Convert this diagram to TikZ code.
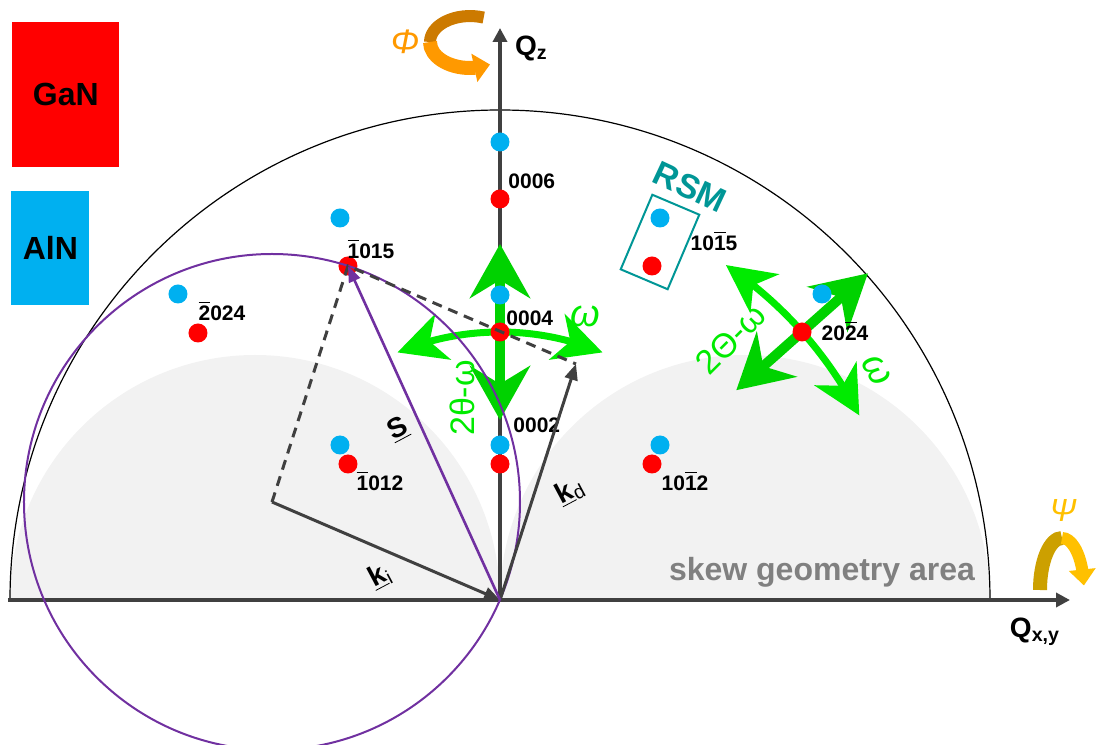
\documentclass[tikz,border=0pt]{standalone}
\usepackage{fontspec}
\setmainfont{Liberation Sans}
\usepackage{xcolor}
\definecolor{ganred}{RGB}{255,0,0}
\definecolor{alnblue}{RGB}{0,176,240}
\definecolor{axgray}{RGB}{64,64,64}
\definecolor{skewgray}{RGB}{242,242,242}
\definecolor{ewpurple}{RGB}{112,48,160}
\definecolor{omgreen}{RGB}{0,235,0}
\definecolor{radgreen}{RGB}{0,210,0}
\definecolor{rsmteal}{RGB}{0,150,150}
\definecolor{phidark}{RGB}{204,122,0}
\definecolor{philight}{RGB}{255,153,0}
\definecolor{psidark}{RGB}{204,160,0}
\definecolor{psilight}{RGB}{255,192,0}
\usepackage{tikz}
\usetikzlibrary{arrows.meta, bending, calc}

\newcommand{\ob}[1]{$\overline{\mbox{#1}}$}

\tikzset{
  gan/.style={circle, fill=ganred, inner sep=0pt, minimum size=9.5pt},
  aln/.style={circle, fill=alnblue, inner sep=0pt, minimum size=9.5pt},
  hkl/.style={font=\bfseries\fontsize{10.5}{12}\selectfont, inner sep=1pt},
  veclbl/.style={font=\bfseries\fontsize{14}{16}\selectfont, rotate=28, inner sep=1pt},
  axis/.style={axgray, line width=2pt, -{Triangle[length=7pt,width=7pt]}},
  kvec/.style={axgray, line width=1.5pt, -{Triangle[length=8pt,width=6.5pt]}},
  dashline/.style={axgray, line width=1.5pt, dash pattern=on 5pt off 3.5pt},
  radarrow/.style={radgreen, line width=5pt,
    {Stealth[length=27pt,width=30pt,inset=9pt]}-{Stealth[length=27pt,width=30pt,inset=9pt]}},
  omarrow/.style={omgreen, line width=3.5pt,
    {Stealth[length=24pt,width=24pt,inset=7pt]}-{Stealth[length=24pt,width=24pt,inset=7pt]}},
  greenlbl/.style={text=omgreen, font=\fontsize{17}{20}\selectfont, inner sep=1pt},
}

\begin{document}
\begin{tikzpicture}[x=0.5pt, y=0.5pt]
  \useasboundingbox (-500,-144) rectangle (597,600);
  % Skew geometry area
  \fill[skewgray] (-490,0) arc[start angle=180, end angle=0, radius=245];
  \fill[skewgray] (0,0) arc[start angle=180, end angle=0, radius=245];
  \node[font=\bfseries\fontsize{16}{18}\selectfont, text=gray] (skew) at (322,28) {skew geometry area};
  % Limiting sphere
  \draw[line width=0.6pt] (-490,0) arc[start angle=180, end angle=0, radius=490];
  % Axes
  \coordinate (O) at (0,0);
  \coordinate (qxa) at (-492,0);
  \coordinate (qxb) at (570,0);
  \coordinate (qzb) at (0,572);
  \draw[axis] (qxa) -- (qxb);
  \draw[axis] (O) -- (qzb);
  \node[font=\bfseries\fontsize{14}{16}\selectfont, anchor=west] (qz) at (8,552) {Q\textsubscript{z}};
  \node[font=\bfseries\fontsize{14}{16}\selectfont] (qxy) at (535,-32) {Q\textsubscript{x,y}};

  % Scan directions at 0004
  \coordinate (r4a) at (0,180);
  \coordinate (r4b) at (0,356);
  \draw[radarrow] (r4a) -- (r4b);
  \coordinate (om4s) at (112.5:268);
  \draw[omarrow] (om4s) arc[start angle=112.5, end angle=67.5, radius=268];
  % Scan directions at 20-24
  \coordinate (r24a) at (41.6:316);
  \coordinate (r24b) at (41.6:492);
  \draw[radarrow] (r24a) -- (r24b);
  \coordinate (om24s) at (56:404);
  \draw[omarrow] (om24s) arc[start angle=56, end angle=27.2, radius=404];

  % Reflections
  \node[aln] (a0006) at (0,458) {};
  \node[gan] (g0006) at (0,401) {};
  \node[aln] (a0004) at (0,305) {};
  \node[gan] (g0004) at (0,268) {};
  \node[aln] (a0002) at (0,155) {};
  \node[gan] (g0002) at (0,136) {};
  \node[aln] (a1015) at (-160,382) {};
  \node[gan] (g1015) at (-152,334) {};
  \node[aln] (a2024) at (-322,306) {};
  \node[gan] (g2024) at (-302,267) {};
  \node[aln] (a1012) at (-160,155) {};
  \node[gan] (g1012) at (-152,136) {};
  \node[aln] (a10m15) at (160,382) {};
  \node[gan] (g10m15) at (152,334) {};
  \node[aln] (a10m12) at (160,155) {};
  \node[gan] (g10m12) at (152,136) {};
  \node[aln] (a20m24) at (322,306) {};
  \node[gan] (g20m24) at (302,268) {};
  % Reflection labels
  \node[hkl, anchor=west] (l0006) at (6,419) {0006};
  \node[hkl, anchor=west] (l0004) at (4,282) {0004};
  \node[hkl, anchor=west] (l0002) at (11,175) {0002};
  \node[hkl] (l1015) at (-129,351) {\ob{1}015};
  \node[hkl] (l2024) at (-278,289) {\ob{2}024};
  \node[hkl] (l1012) at (-120,119) {\ob{1}012};
  \node[hkl] (l10m15) at (214,359) {10\ob{1}5};
  \node[hkl] (l10m12) at (185,119) {10\ob{1}2};
  \node[hkl] (l20m24) at (345,269) {20\ob{2}4};

  % Ewald sphere
  \coordinate (C) at (-228,98);
  \coordinate (D) at ($(g1015.center)-(C)$);
  \draw[ewpurple, line width=1pt] (C) circle[radius=248];
  \draw[dashline] (C) -- (g1015.center) -- (D);
  \draw[kvec] (C) -- (O);
  \draw[kvec] (O) -- (D);
  \draw[ewpurple, line width=1.3pt, -{Triangle[length=8pt,width=6pt]}] (O) -- (g1015.center);
  \node[veclbl] (ki) at (-120,24) {\underline{k}\textsubscript{\mdseries i}};
  \node[veclbl] (kd) at (70,109) {\underline{k}\textsubscript{\mdseries d}};
  \node[veclbl] (sv) at (-102,171) {\underline{S}};

  % Scan labels
  \node[greenlbl, font=\itshape\fontsize{19}{22}\selectfont] (om4) at (85,284) {ω};
  \node[greenlbl, rotate=90] (tt4) at (-38,202) {2θ-ω};
  \node[greenlbl, font=\itshape\fontsize{19}{22}\selectfont, rotate=-60] (om24) at (377,230) {ω};
  \node[greenlbl, rotate=45] (tt24) at (231,261) {2Θ-ω};

  % RSM box
  \node[draw=rsmteal, line width=1pt, rotate=-23, minimum width=25.5pt, minimum height=40.5pt] (rsm) at (160,358) {};
  \node[text=rsmteal, font=\bfseries\fontsize{17}{20}\selectfont, rotate=-25] (rsmlbl) at (190,413) {RSM};

  % Rotation Phi
  \coordinate (phis) at (-16.3,582.4);
  \coordinate (phim) at (-70,558);
  \draw[phidark, line width=6pt] (phis) arc[start angle=70, end angle=180, x radius=40, y radius=26];
  \draw[philight, line width=7pt, -{Triangle[length=8pt,width=14pt]}] (phim) arc[start angle=180, end angle=300, x radius=40, y radius=26];
  \node[text=philight, font=\itshape\fontsize{17}{20}\selectfont] (phi) at (-95,558) {Φ};
  % Rotation Psi
  \coordinate (psis) at (540,10);
  \coordinate (psim) at (562,62);
  \draw[psidark, line width=7pt] (psis) arc[start angle=180, end angle=90, x radius=22, y radius=52];
  \draw[psilight, line width=6pt, -{Triangle[length=8pt,width=13pt]}] (psim) arc[start angle=90, end angle=5, x radius=22, y radius=52];
  \node[text=psilight, font=\itshape\fontsize{16}{19}\selectfont] (psi) at (563,90) {Ψ};

  % Legend
  \node[fill=ganred, minimum width=53.5pt, minimum height=72.5pt, anchor=north west,
        font=\bfseries\fontsize{16}{19}\selectfont] (gan) at (-488,578) {GaN};
  \node[fill=alnblue, minimum width=39pt, minimum height=57pt, anchor=north west,
        font=\bfseries\fontsize{16}{19}\selectfont] (aln) at (-489,409) {AlN};
\end{tikzpicture}
\end{document}
